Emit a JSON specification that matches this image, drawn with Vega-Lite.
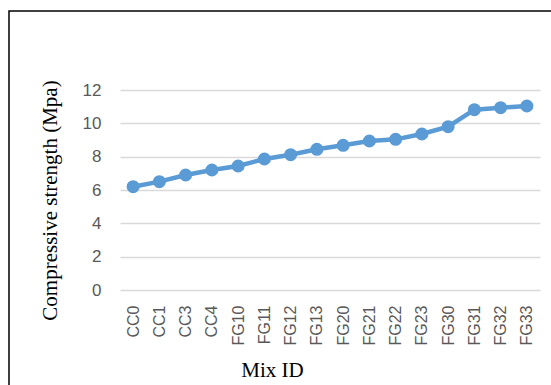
{
  "$schema": "https://vega.github.io/schema/vega-lite/v6.json",
  "width": 544,
  "height": 376,
  "autosize": {"type": "none"},
  "padding": {"left": 9, "top": 11, "right": -2, "bottom": -2},
  "background": "white",
  "config": {
    "view": {"stroke": "black", "strokeWidth": 1.5},
    "axis": {
      "labelFont": "Liberation Sans",
      "labelFontSize": 16,
      "labelColor": "#595959",
      "titleFont": "Liberation Serif",
      "titleFontSize": 21,
      "titleFontWeight": "normal",
      "titleColor": "black",
      "domain": false,
      "ticks": false
    }
  },
  "data": {
    "values": [
      {"mix": "CC0", "strength": 6.2},
      {"mix": "CC1", "strength": 6.5},
      {"mix": "CC3", "strength": 6.9},
      {"mix": "CC4", "strength": 7.2},
      {"mix": "FG10", "strength": 7.44},
      {"mix": "FG11", "strength": 7.86},
      {"mix": "FG12", "strength": 8.12},
      {"mix": "FG13", "strength": 8.44},
      {"mix": "FG20", "strength": 8.68},
      {"mix": "FG21", "strength": 8.94},
      {"mix": "FG22", "strength": 9.04},
      {"mix": "FG23", "strength": 9.36},
      {"mix": "FG30", "strength": 9.8},
      {"mix": "FG31", "strength": 10.82},
      {"mix": "FG32", "strength": 10.94},
      {"mix": "FG33", "strength": 11.04}
    ]
  },
  "encoding": {
    "x": {
      "field": "mix",
      "type": "nominal",
      "sort": null,
      "scale": {"type": "point", "padding": 0.5, "range": [111, 531]},
      "axis": {
        "title": "Mix ID",
        "labelAngle": -90,
        "labelPadding": 15,
        "offset": -97,
        "grid": false,
        "titleX": 263,
        "titleY": 80,
        "titleAlign": "center",
        "titleBaseline": "middle"
      }
    },
    "y": {
      "field": "strength",
      "type": "quantitative",
      "scale": {"domain": [0, 12], "nice": false, "zero": true, "range": [279, 79]},
      "axis": {
        "title": "Compressive strength (Mpa)",
        "values": [0, 2, 4, 6, 8, 10, 12],
        "offset": -111,
        "labelPadding": 19,
        "labelFontSize": 17,
        "grid": true,
        "gridColor": "#d9d9d9",
        "gridWidth": 1.3,
        "titleX": -70,
        "titleY": 189,
        "titleAngle": -90,
        "titleAlign": "center",
        "titleBaseline": "middle"
      }
    }
  },
  "layer": [
    {"mark": {"type": "line", "color": "#5B9BD5", "strokeWidth": 4.5}},
    {"mark": {"type": "point", "filled": true, "opacity": 1, "color": "#5B9BD5", "size": 170, "shape": "circle"}}
  ]
}
